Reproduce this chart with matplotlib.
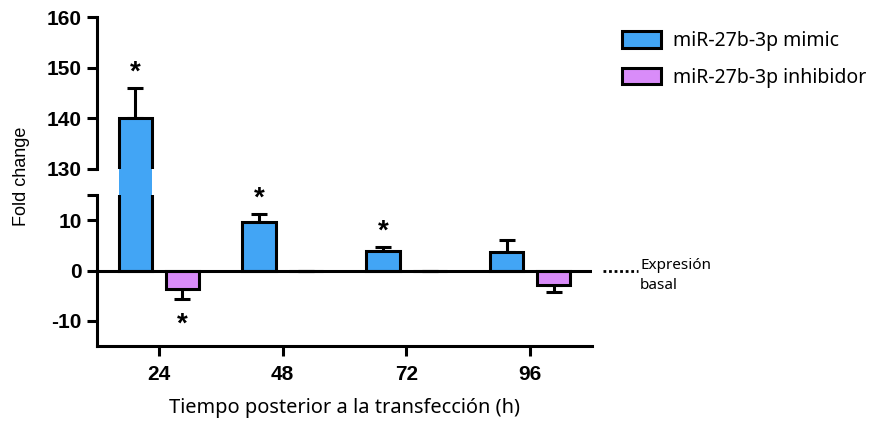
import matplotlib.pyplot as plt
import numpy as np

# data
hours = ['24', '48', '72', '96']
mimic = [140.0, 9.6, 3.8, 3.7]
mimic_err = [6.0, 1.6, 0.8, 2.3]
inhib = [-3.6, 0.0, 0.0, -2.8]
inhib_err = [2.0, 0.0, 0.0, 1.4]
mimic_sig = ['*', '*', '*', '']
inhib_sig = ['*', '', '', '']
labels = ['miR-27b-3p mimic', 'miR-27b-3p inhibidor']

blue = '#42a5f5'
purple = '#d98cf9'
lw = 2.2
w = 0.27
off = 0.19

fig = plt.figure(figsize=(8.69, 4.23), dpi=100)
ax_top = fig.add_axes([0.1116, 0.6005, 0.5696, 0.3593])
ax_mid = fig.add_axes([0.1116, 0.539, 0.5696, 0.0615])
ax_bot = fig.add_axes([0.1116, 0.182, 0.5696, 0.357])

x = np.arange(len(hours))

tick_font = dict(family='Liberation Sans', weight='bold', size=15)

for ax in (ax_top, ax_bot):
    b1 = ax.bar(x - off, mimic, w, color=blue, edgecolor='black', linewidth=lw, zorder=3)
    b2 = ax.bar(x + off, inhib, w, color=purple, edgecolor='black', linewidth=lw, zorder=3)
    ax.errorbar(x - off, mimic, yerr=[np.zeros(4), mimic_err], fmt='none',
                ecolor='black', elinewidth=lw, capsize=6, capthick=lw, zorder=2)
    ax.errorbar(x + off, inhib, yerr=[inhib_err, np.zeros(4)], fmt='none',
                ecolor='black', elinewidth=lw, capsize=6, capthick=lw, zorder=2)
    for i in range(len(hours)):
        if mimic_sig[i]:
            ax.annotate(mimic_sig[i], (x[i] - off, mimic[i] + mimic_err[i]),
                        xytext=(0, 2), textcoords='offset points', ha='center',
                        va='bottom', fontsize=20, fontweight='bold',
                        family='Liberation Sans', annotation_clip=True)
        if inhib_sig[i]:
            ax.annotate(inhib_sig[i], (x[i] + off, inhib[i] - inhib_err[i]),
                        xytext=(0, -28), textcoords='offset points', ha='center',
                        va='bottom', fontsize=20, fontweight='bold',
                        family='Liberation Sans', annotation_clip=True)
    ax.set_xlim(-0.5, 3.5)
    for s in ('top', 'right'):
        ax.spines[s].set_visible(False)
    ax.spines['left'].set_linewidth(lw)
    ax.spines['bottom'].set_linewidth(lw)
    ax.tick_params(axis='both', direction='out', width=lw, length=7, pad=4)

# middle part of the broken bar
ax_mid.bar(x - off, mimic, w, color=blue, linewidth=0)
ax_mid.set_xlim(-0.5, 3.5)
ax_mid.set_ylim(15, 130)
ax_mid.axis('off')

ax_top.set_ylim(130, 160)
ax_top.set_yticks([130, 140, 150, 160])
ax_top.spines['bottom'].set_visible(False)
ax_top.set_xticks([])
for t in ax_top.get_yticklabels():
    t.set(**tick_font)

ax_bot.set_ylim(-15, 15)
ax_bot.set_yticks([-10, 0, 10, 15])
ax_bot.set_yticklabels(['-10', '0', '10', ''])
ax_bot.axhline(0, color='black', linewidth=lw, zorder=4)
ax_bot.set_xticks(x)
ax_bot.set_xticklabels(hours)
ax_bot.tick_params(axis='x', length=7, pad=7)
for t in ax_bot.get_xticklabels() + ax_bot.get_yticklabels():
    t.set(**tick_font)
ax_bot.set_xlabel('Tiempo posterior a la transfección (h)', family='Noto Sans',
                  fontsize=14.4, labelpad=10)

# basal expression marker
ax_bot.plot([3.59, 3.87], [0, 0], color='black', linestyle=(0, (1, 1)),
            linewidth=2, clip_on=False)
ax_bot.text(3.89, -0.9, 'Expresión\nbasal', family='Noto Sans', fontsize=11,
            va='center', ha='left', linespacing=1.45, clip_on=False)

fig.text(22 / 869, 1 - 176 / 423, 'Fold change', family='Liberation Sans',
         fontsize=13, rotation=90, ha='center', va='center')

fig.legend([b1, b2], labels, loc='upper left', bbox_to_anchor=(622 / 869, 1 - 31 / 423),
           frameon=False, borderpad=0, borderaxespad=0, handlelength=2.0,
           handleheight=0.95, handletextpad=0.6, labelspacing=0.85,
           prop={'family': 'Noto Sans', 'size': 14})

fig.savefig('out.png', dpi=100)
